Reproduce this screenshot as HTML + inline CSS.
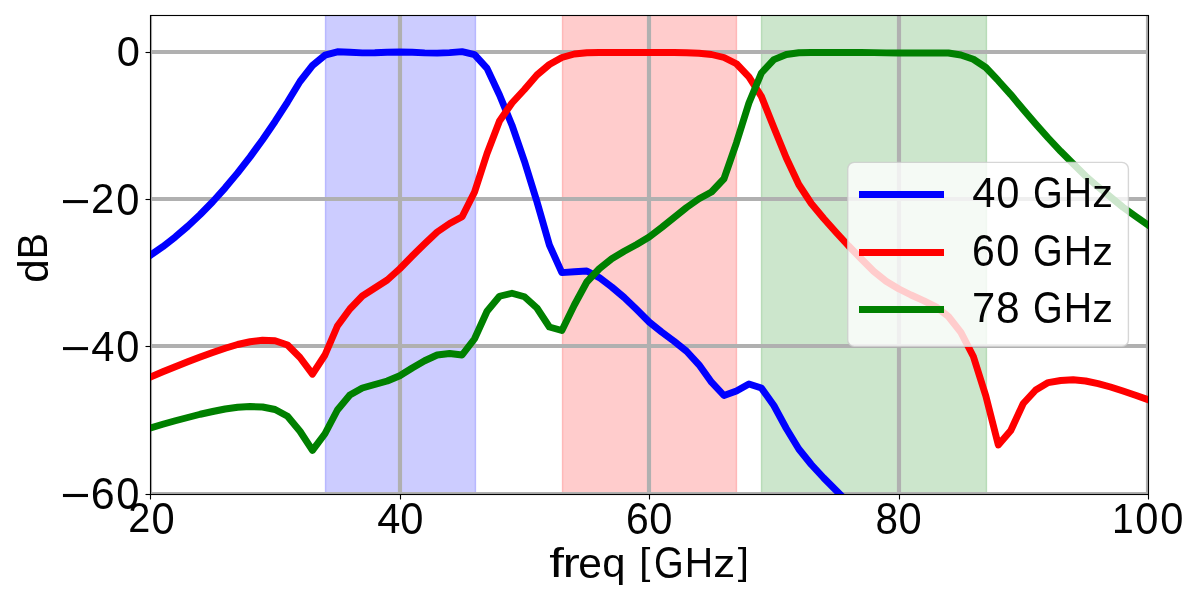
<!DOCTYPE html>
<html lang="en">
<head>
<meta charset="utf-8">
<title>Filter bank response</title>
<style>
html,body{margin:0;padding:0;background:#fff;}
body{width:1200px;height:600px;overflow:hidden;}
svg{display:block;}
text{font-family:"Liberation Sans",sans-serif;fill:#000;}
</style>
</head>
<body>
<svg width="1200" height="600" viewBox="0 0 1200 600">
<defs><clipPath id="ax"><rect x="150" y="15" width="999" height="479"/></clipPath></defs>
<g clip-path="url(#ax)">
<rect x="325.50" y="10.20" width="150.00" height="488.40" fill="#0000ff" fill-opacity="0.2" stroke="#0000ff" stroke-opacity="0.2" stroke-width="1.39"/>
<rect x="562.50" y="10.20" width="174.00" height="488.40" fill="#ff0000" fill-opacity="0.2" stroke="#ff0000" stroke-opacity="0.2" stroke-width="1.39"/>
<rect x="761.50" y="10.20" width="225.00" height="488.40" fill="#008000" fill-opacity="0.2" stroke="#008000" stroke-opacity="0.2" stroke-width="1.39"/>
<line x1="150.00" y1="15.20" x2="150.00" y2="493.60" stroke="#b0b0b0" stroke-width="4.17"/>
<line x1="400.00" y1="15.20" x2="400.00" y2="493.60" stroke="#b0b0b0" stroke-width="4.17"/>
<line x1="649.00" y1="15.20" x2="649.00" y2="493.60" stroke="#b0b0b0" stroke-width="4.17"/>
<line x1="899.00" y1="15.20" x2="899.00" y2="493.60" stroke="#b0b0b0" stroke-width="4.17"/>
<line x1="1148.00" y1="15.20" x2="1148.00" y2="493.60" stroke="#b0b0b0" stroke-width="4.17"/>
<line x1="150.35" y1="52.00" x2="1147.95" y2="52.00" stroke="#b0b0b0" stroke-width="4.17"/>
<line x1="150.35" y1="199.00" x2="1147.95" y2="199.00" stroke="#b0b0b0" stroke-width="4.17"/>
<line x1="150.35" y1="346.00" x2="1147.95" y2="346.00" stroke="#b0b0b0" stroke-width="4.17"/>
<line x1="150.35" y1="494.00" x2="1147.95" y2="494.00" stroke="#b0b0b0" stroke-width="4.17"/>
<path d="M150.35 255.36 L162.82 246.66 L175.29 236.97 L187.76 226.25 L200.23 214.50 L212.70 201.71 L225.17 187.84 L237.64 172.90 L250.11 156.86 L262.58 139.71 L275.05 121.43 L287.52 102.01 L299.99 81.50 L312.46 65.50 L324.93 55.20 L337.40 51.80 L349.87 52.30 L362.34 52.90 L374.81 52.80 L387.28 52.30 L399.75 52.00 L412.22 52.30 L424.69 52.90 L437.16 53.10 L449.63 52.60 L462.10 51.60 L474.57 54.60 L487.04 68.40 L499.51 95.00 L511.98 125.20 L524.45 161.30 L536.92 201.60 L549.39 245.00 L561.86 272.60 L574.33 271.80 L586.80 271.00 L599.27 277.60 L611.74 287.00 L624.21 297.50 L636.68 309.50 L649.15 322.00 L661.62 332.00 L674.09 341.25 L686.56 351.25 L699.03 364.80 L711.50 382.20 L723.97 395.50 L736.44 391.00 L748.91 384.00 L761.38 388.00 L773.85 405.50 L786.32 428.50 L798.79 449.00 L811.26 464.50 L823.73 478.00 L836.20 490.50 L848.67 503.00 L861.14 515.00" fill="none" stroke="#0000ff" stroke-width="6.94" stroke-linejoin="round" stroke-linecap="square"/>
<path d="M150.35 377.00 L162.82 371.75 L175.29 366.75 L187.76 361.75 L200.23 357.00 L212.70 352.50 L225.17 348.25 L237.64 344.50 L250.11 341.75 L262.58 340.25 L275.05 340.75 L287.52 345.00 L299.99 357.50 L312.46 374.20 L324.93 355.00 L337.40 326.00 L349.87 309.00 L362.34 296.00 L374.81 288.00 L387.28 280.00 L399.75 268.75 L412.22 256.00 L424.69 243.75 L437.16 232.00 L449.63 223.50 L462.10 216.80 L474.57 192.00 L487.04 153.50 L499.51 121.00 L511.98 103.00 L524.45 89.50 L536.92 75.00 L549.39 64.50 L561.86 57.50 L574.33 54.00 L586.80 52.75 L599.27 52.50 L611.74 52.50 L624.21 52.50 L636.68 52.50 L649.15 52.50 L661.62 52.50 L674.09 52.50 L686.56 52.75 L699.03 53.25 L711.50 54.50 L723.97 57.50 L736.44 63.75 L748.91 76.80 L761.38 96.40 L773.85 127.50 L786.32 158.00 L798.79 184.50 L811.26 203.50 L823.73 218.50 L836.20 232.50 L848.67 246.00 L861.14 258.75 L873.61 271.25 L886.08 281.25 L898.55 288.75 L911.02 295.00 L923.49 300.60 L935.96 306.80 L948.43 316.50 L960.90 332.30 L973.37 356.50 L985.84 396.00 L998.31 445.00 L1010.78 430.50 L1023.25 403.50 L1035.72 390.00 L1048.19 382.60 L1060.66 380.50 L1073.13 379.70 L1085.60 381.00 L1098.07 383.60 L1110.54 387.00 L1123.01 391.00 L1135.48 395.20 L1147.95 399.60" fill="none" stroke="#ff0000" stroke-width="6.94" stroke-linejoin="round" stroke-linecap="square"/>
<path d="M150.35 428.00 L162.82 424.25 L175.29 420.75 L187.76 417.50 L200.23 414.25 L212.70 411.50 L225.17 409.00 L237.64 407.25 L250.11 406.50 L262.58 407.00 L275.05 409.50 L287.52 416.25 L299.99 431.25 L312.46 450.30 L324.93 433.75 L337.40 410.00 L349.87 395.00 L362.34 388.00 L374.81 384.50 L387.28 381.00 L399.75 375.75 L412.22 368.00 L424.69 360.75 L437.16 355.00 L449.63 353.50 L462.10 355.00 L474.57 338.75 L487.04 311.25 L499.51 296.25 L511.98 293.25 L524.45 296.75 L536.92 308.00 L549.39 327.00 L561.86 330.50 L574.33 305.00 L586.80 282.00 L599.27 268.75 L611.74 258.75 L624.21 251.25 L636.68 244.50 L649.15 237.00 L661.62 227.50 L674.09 217.50 L686.56 207.50 L699.03 198.75 L711.50 192.00 L723.97 178.75 L736.44 142.80 L748.91 103.00 L761.38 73.00 L773.85 59.60 L786.32 54.50 L798.79 52.75 L811.26 52.50 L823.73 52.50 L836.20 52.50 L848.67 52.50 L861.14 52.50 L873.61 52.60 L886.08 52.90 L898.55 53.00 L911.02 53.00 L923.49 53.00 L935.96 53.00 L948.43 53.00 L960.90 55.00 L973.37 59.25 L985.84 67.50 L998.31 80.70 L1010.78 94.60 L1023.25 109.50 L1035.72 124.00 L1048.19 138.00 L1060.66 151.30 L1073.13 163.80 L1085.60 176.00 L1098.07 186.80 L1110.54 197.00 L1123.01 207.20 L1135.48 216.20 L1147.95 225.00" fill="none" stroke="#008000" stroke-width="6.94" stroke-linejoin="round" stroke-linecap="square"/>
</g>
<line x1="150.5" y1="494.5" x2="150.5" y2="499.50" stroke="#000" stroke-width="1.11"/>
<line x1="400.5" y1="494.5" x2="400.5" y2="499.50" stroke="#000" stroke-width="1.11"/>
<line x1="649.5" y1="494.5" x2="649.5" y2="499.50" stroke="#000" stroke-width="1.11"/>
<line x1="899.5" y1="494.5" x2="899.5" y2="499.50" stroke="#000" stroke-width="1.11"/>
<line x1="1148.5" y1="494.5" x2="1148.5" y2="499.50" stroke="#000" stroke-width="1.11"/>
<line x1="145.50" y1="52.5" x2="150.50" y2="52.5" stroke="#000" stroke-width="1.11"/>
<line x1="145.50" y1="199.5" x2="150.50" y2="199.5" stroke="#000" stroke-width="1.11"/>
<line x1="145.50" y1="346.5" x2="150.50" y2="346.5" stroke="#000" stroke-width="1.11"/>
<line x1="145.50" y1="494.5" x2="150.50" y2="494.5" stroke="#000" stroke-width="1.11"/>
<rect x="150.5" y="15.5" width="998.0" height="479.0" fill="none" stroke="#000" stroke-width="1.11"/>
<rect x="847.75" y="162.40" width="280.65" height="184.00" rx="6.5" ry="6.5" fill="#fff" fill-opacity="0.8" stroke="#cccccc" stroke-opacity="0.8" stroke-width="1.39"/>
<line x1="859" y1="194.50" x2="944" y2="194.50" stroke="#0000ff" stroke-width="6.94"/>
<line x1="859" y1="252.50" x2="944" y2="252.50" stroke="#ff0000" stroke-width="6.94"/>
<line x1="859" y1="309.50" x2="944" y2="309.50" stroke="#008000" stroke-width="6.94"/>
<g opacity="0.99">
<text transform="translate(100 20)" xml:space="preserve"><tspan x="16.63" y="46.36" font-size="41.92" textLength="23.17" lengthAdjust="spacingAndGlyphs">0</tspan></text>
<text transform="translate(40 170)" xml:space="preserve"><tspan x="20.42" y="45.88" font-size="43.26" textLength="30.10" lengthAdjust="spacingAndGlyphs">−</tspan><tspan x="50.91" y="43.20" font-size="42.94" textLength="23.27" lengthAdjust="spacingAndGlyphs">2</tspan><tspan x="76.33" y="44.56" font-size="43.66" textLength="23.17" lengthAdjust="spacingAndGlyphs">0</tspan></text>
<text transform="translate(40 320)" xml:space="preserve"><tspan x="20.42" y="42.70" font-size="42.69" textLength="30.10" lengthAdjust="spacingAndGlyphs">−</tspan><tspan x="51.17" y="40.79" font-size="41.73" textLength="23.13" lengthAdjust="spacingAndGlyphs">4</tspan><tspan x="76.33" y="41.56" font-size="43.66" textLength="23.17" lengthAdjust="spacingAndGlyphs">0</tspan></text>
<text transform="translate(40 470)" xml:space="preserve"><tspan x="20.42" y="40.02" font-size="43.66" textLength="30.10" lengthAdjust="spacingAndGlyphs">−</tspan><tspan x="50.85" y="38.56" font-size="43.66" textLength="23.92" lengthAdjust="spacingAndGlyphs">6</tspan><tspan x="76.33" y="38.56" font-size="43.66" textLength="23.17" lengthAdjust="spacingAndGlyphs">0</tspan></text>
<text transform="translate(125 495)" xml:space="preserve"><tspan x="3.22" y="37.20" font-size="42.94" textLength="22.05" lengthAdjust="spacingAndGlyphs">2</tspan><tspan x="26.53" y="38.56" font-size="43.66" textLength="23.17" lengthAdjust="spacingAndGlyphs">0</tspan></text>
<text transform="translate(360 500)" xml:space="preserve"><tspan x="17.17" y="32.79" font-size="41.73" textLength="23.13" lengthAdjust="spacingAndGlyphs">4</tspan><tspan x="40.33" y="33.56" font-size="43.66" textLength="23.17" lengthAdjust="spacingAndGlyphs">0</tspan></text>
<text transform="translate(610 500)" xml:space="preserve"><tspan x="15.96" y="33.56" font-size="43.66" textLength="22.73" lengthAdjust="spacingAndGlyphs">6</tspan><tspan x="39.33" y="33.56" font-size="43.66" textLength="23.17" lengthAdjust="spacingAndGlyphs">0</tspan></text>
<text transform="translate(860 500)" xml:space="preserve"><tspan x="15.38" y="33.56" font-size="43.66" textLength="22.48" lengthAdjust="spacingAndGlyphs">8</tspan><tspan x="38.53" y="33.56" font-size="43.66" textLength="23.17" lengthAdjust="spacingAndGlyphs">0</tspan></text>
<text transform="translate(1090 500)" xml:space="preserve"><tspan x="22.07" y="33.00" font-size="42.03" textLength="21.74" lengthAdjust="spacingAndGlyphs">1</tspan><tspan x="45.33" y="33.56" font-size="43.66" textLength="23.17" lengthAdjust="spacingAndGlyphs">0</tspan><tspan x="70.33" y="33.56" font-size="43.66" textLength="23.17" lengthAdjust="spacingAndGlyphs">0</tspan></text>
<text transform="translate(500 540)" xml:space="preserve"><tspan x="49.21" y="37.00" font-size="41.38" textLength="14.68" lengthAdjust="spacingAndGlyphs">f</tspan><tspan x="62.62" y="37.00" font-size="40.74" textLength="17.32" lengthAdjust="spacingAndGlyphs">r</tspan><tspan x="78.30" y="37.58" font-size="41.82" textLength="23.67" lengthAdjust="spacingAndGlyphs">e</tspan><tspan x="102.33" y="36.60" font-size="40.00" textLength="23.22" lengthAdjust="spacingAndGlyphs">q</tspan> <tspan x="139.20" y="34.14" font-size="37.43" textLength="11.12" lengthAdjust="spacingAndGlyphs">[</tspan><tspan x="154.09" y="37.56" font-size="43.66" textLength="29.69" lengthAdjust="spacingAndGlyphs">G</tspan><tspan x="184.86" y="37.00" font-size="42.03" textLength="28.37" lengthAdjust="spacingAndGlyphs">H</tspan><tspan x="213.24" y="37.00" font-size="39.62" textLength="21.95" lengthAdjust="spacingAndGlyphs">z</tspan><tspan x="237.80" y="34.14" font-size="37.43" textLength="11.12" lengthAdjust="spacingAndGlyphs">]</tspan></text>
<text transform="translate(960 168)" xml:space="preserve"><tspan x="12.17" y="38.79" font-size="41.73" textLength="23.13" lengthAdjust="spacingAndGlyphs">4</tspan><tspan x="36.33" y="39.56" font-size="43.66" textLength="23.17" lengthAdjust="spacingAndGlyphs">0</tspan> <tspan x="73.09" y="39.56" font-size="43.66" textLength="29.69" lengthAdjust="spacingAndGlyphs">G</tspan><tspan x="103.86" y="39.00" font-size="42.03" textLength="28.37" lengthAdjust="spacingAndGlyphs">H</tspan><tspan x="132.34" y="39.00" font-size="39.62" textLength="20.73" lengthAdjust="spacingAndGlyphs">z</tspan></text>
<text transform="translate(960 226)" xml:space="preserve"><tspan x="11.96" y="39.56" font-size="43.66" textLength="22.73" lengthAdjust="spacingAndGlyphs">6</tspan><tspan x="36.33" y="39.56" font-size="43.66" textLength="23.17" lengthAdjust="spacingAndGlyphs">0</tspan> <tspan x="73.09" y="39.56" font-size="43.66" textLength="29.69" lengthAdjust="spacingAndGlyphs">G</tspan><tspan x="103.86" y="39.00" font-size="42.03" textLength="28.37" lengthAdjust="spacingAndGlyphs">H</tspan><tspan x="132.34" y="39.00" font-size="39.62" textLength="20.73" lengthAdjust="spacingAndGlyphs">z</tspan></text>
<text transform="translate(960 284)" xml:space="preserve"><tspan x="11.91" y="38.00" font-size="42.03" textLength="23.22" lengthAdjust="spacingAndGlyphs">7</tspan><tspan x="36.09" y="38.56" font-size="43.66" textLength="23.67" lengthAdjust="spacingAndGlyphs">8</tspan> <tspan x="73.09" y="38.56" font-size="43.66" textLength="29.69" lengthAdjust="spacingAndGlyphs">G</tspan><tspan x="103.86" y="38.00" font-size="42.03" textLength="28.37" lengthAdjust="spacingAndGlyphs">H</tspan><tspan x="132.34" y="38.00" font-size="39.62" textLength="20.73" lengthAdjust="spacingAndGlyphs">z</tspan></text>
<text transform="translate(5 320) rotate(-90)" xml:space="preserve"><tspan x="37.31" y="43.17" font-size="41.89" textLength="23.48" lengthAdjust="spacingAndGlyphs">d</tspan><tspan x="60.86" y="42.00" font-size="42.03" textLength="26.18" lengthAdjust="spacingAndGlyphs">B</tspan></text>
</g>
</svg>
</body>
</html>
